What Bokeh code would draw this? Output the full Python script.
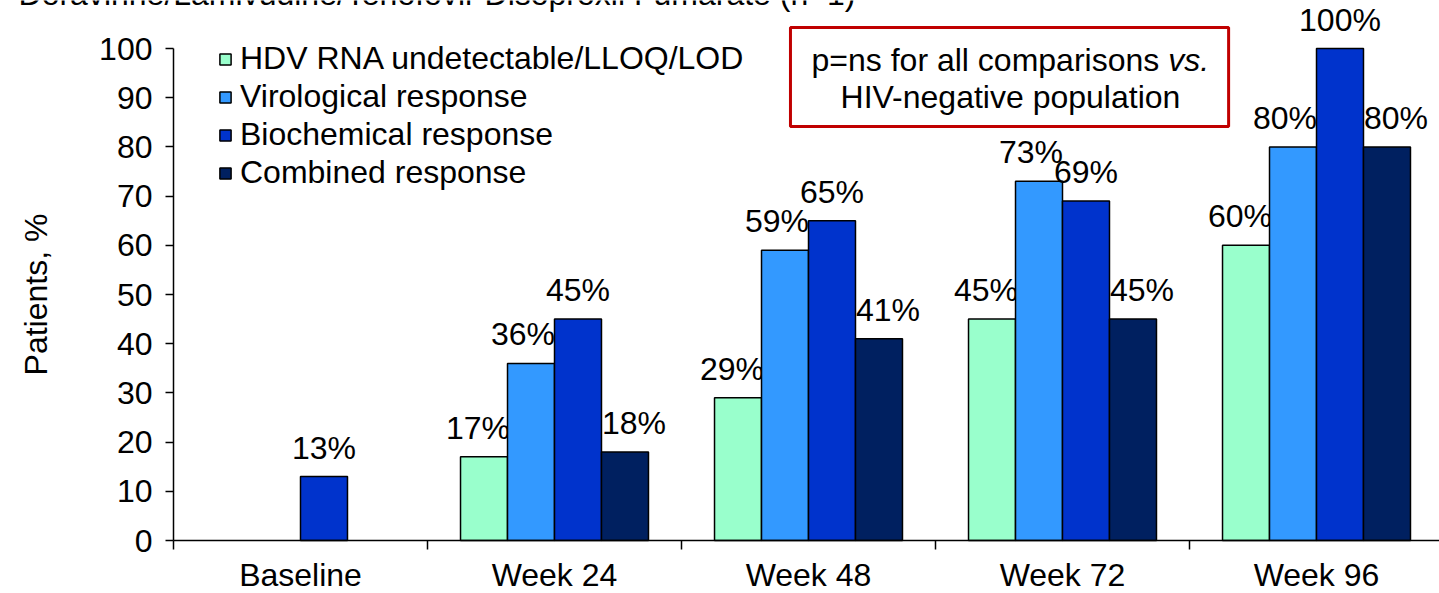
from bokeh.plotting import figure
from bokeh.models import (ColumnDataSource, Range1d, FixedTicker, Legend, LegendItem,
                          BoxAnnotation, Label)
from bokeh.embed import file_html
from bokeh.resources import INLINE
from bokeh.core.properties import value

# ---------------- data ----------------
categories = ["Baseline", "Week 24", "Week 48", "Week 72", "Week 96"]
series_names = ["HDV RNA undetectable/LLOQ/LOD", "Virological response",
                "Biochemical response", "Combined response"]
hdv_rna = [None, 17, 29, 45, 60]
virological = [None, 36, 59, 73, 80]
biochemical = [13, 45, 65, 69, 100]
combined = [None, 18, 41, 45, 80]
y_ticks = [0, 10, 20, 30, 40, 50, 60, 70, 80, 90, 100]
title_text = "Doravirine/Lamivudine/Tenofovir Disoproxil Fumarate (n=1)"
note_line1 = "p=ns for all comparisons "
note_line1_italic = "vs."
note_line2 = "HIV-negative population"

# ---------------- style ----------------
colors = ["#99FFCC", "#3399FF", "#0033CC", "#002060"]
FONT = "Liberation Sans"
FS = "32px"
bar_w = 0.185
offsets = [-1.5 * bar_w, -0.5 * bar_w, 0.5 * bar_w, 1.5 * bar_w]
label_dx = [-6, -8, 0, 9]

W, H = 1439, 593
x0_px, px_per_cat = 173, 254      # y-axis position and category pitch in pixels
y0_px, px_per_pct = 540, 4.92     # x-axis position and pixels per percent
x_rng = Range1d(-x0_px / px_per_cat, (W - x0_px) / px_per_cat)
y_rng = Range1d(-(H - y0_px) / px_per_pct, y0_px / px_per_pct)

p = figure(width=W, height=H, output_backend="svg", toolbar_location=None,
           x_range=x_rng, y_range=y_rng,
           min_border_left=0, min_border_right=0, min_border_top=0,
           min_border_bottom=0)
p.outline_line_color = None
p.grid.visible = False
p.background_fill_color = "white"

# axes (drawn at fixed data locations so that the frame spans the whole canvas)
xa = p.xaxis[0]
xa.fixed_location = 0
xa.bounds = (0, x_rng.end)
xa.ticker = FixedTicker(ticks=[i + 0.5 for i in range(len(categories))],
                        minor_ticks=list(range(len(categories) + 1)))
xa.major_label_overrides = {i + 0.5: c for i, c in enumerate(categories)}
xa.major_tick_out = 0
xa.major_tick_in = 0
xa.minor_tick_out = 9
xa.minor_tick_in = 0
xa.minor_tick_line_color = "black"
xa.minor_tick_line_width = 1.5
xa.axis_line_color = "black"
xa.axis_line_width = 1.5
xa.major_label_text_font = FONT
xa.major_label_text_font_size = FS
xa.major_label_text_color = "black"
xa.major_label_standoff = 7

ya = p.yaxis[0]
ya.fixed_location = 0
ya.ticker = FixedTicker(ticks=y_ticks, minor_ticks=[])
ya.bounds = (0, 100)
ya.major_tick_out = 8
ya.major_tick_in = 0
ya.major_tick_line_color = "black"
ya.major_tick_line_width = 1.5
ya.axis_line_color = "black"
ya.axis_line_width = 1.5
ya.major_label_text_font = FONT
ya.major_label_text_font_size = FS
ya.major_label_text_color = "black"
ya.major_label_standoff = 13
ya.axis_label = "Patients, %"
ya.axis_label_text_font = FONT
ya.axis_label_text_font_size = FS
ya.axis_label_text_font_style = "normal"
ya.axis_label_text_color = "black"
ya.axis_label_standoff = 42

# bars and labels
all_series = [hdv_rna, virological, biochemical, combined]
items = []
for j, vals in enumerate(all_series):
    xs, tops, labs = [], [], []
    for i, v in enumerate(vals):
        if v is None:
            continue
        xs.append(i + 0.5 + offsets[j])
        tops.append(v)
        labs.append(f"{v}%")
    src = ColumnDataSource(dict(x=xs, top=tops, label=labs))
    r = p.vbar(x="x", top="top", bottom=0, width=bar_w, source=src,
               fill_color=colors[j], line_color="black", line_width=1.5)
    p.text(x="x", y="top", text="label", source=src, x_offset=label_dx[j],
           y_offset=-29, text_align="center", text_baseline="alphabetic",
           text_font=value(FONT), text_font_size=FS, text_color="black")
    items.append(LegendItem(label=series_names[j], renderers=[r]))

legend = Legend(items=items, location=(218, 402), padding=0, margin=0, spacing=1,
                glyph_width=14, glyph_height=14, label_standoff=8, label_height=36,
                label_text_font=FONT, label_text_font_size=FS,
                label_text_color="black", border_line_color=None,
                background_fill_alpha=0)
p.add_layout(legend)

# annotation box
box = BoxAnnotation(left=2.429, right=4.154, bottom=84.15, top=104.27,
                    fill_color="white", fill_alpha=1.0,
                    line_color="#C00000", line_alpha=1.0, line_width=3)
p.add_layout(box)
p.add_layout(Label(x=3.916, y=97.66, text=note_line1,
                   text_align="right", text_baseline="alphabetic",
                   text_font=FONT, text_font_size=FS, text_color="black"))
p.add_layout(Label(x=3.916, y=97.66, text=note_line1_italic, text_align="left",
                   text_baseline="alphabetic", text_font=FONT,
                   text_font_size=FS, text_font_style="italic", text_color="black"))
p.add_layout(Label(x=3.295, y=90.14, text=note_line2,
                   text_align="center", text_baseline="alphabetic",
                   text_font=FONT, text_font_size=FS, text_color="black"))

# top title line (cut at the top edge, as in the source slide)
p.add_layout(Label(x=-0.61, y=110.98, text=title_text, text_align="left",
                   text_baseline="alphabetic", text_font=FONT,
                   text_font_size=FS, text_color="black"))

open("out.html", "w").write(file_html(p, INLINE))
